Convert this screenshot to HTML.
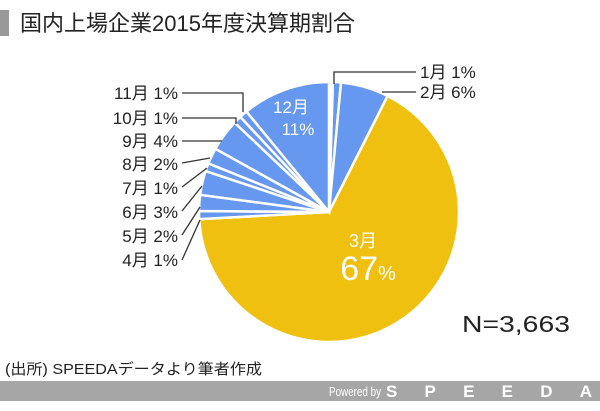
<!DOCTYPE html>
<html><head><meta charset="utf-8"><style>
body{margin:0;width:600px;height:406px;background:#fff;overflow:hidden;font-family:"Liberation Sans","Noto Sans CJK JP",sans-serif}
</style></head><body>
<svg width="600" height="406" xmlns="http://www.w3.org/2000/svg" font-family="Liberation Sans, Noto Sans CJK JP, sans-serif">
<rect x="0" y="10" width="9" height="26" fill="#999"/>
<text x="20" y="31" font-size="22" fill="#222">国内上場企業2015年度決算期割合</text>
<g id="pie" stroke="#fff" stroke-width="2.5"></g>
<g stroke="#333" stroke-width="1.3" fill="none">
<polyline points="182,93 243,93 243,112"/>
<polyline points="182,118 236,118 236,124"/>
<polyline points="182,141 222,141"/>
<polyline points="182,163 210,158"/>
<polyline points="182,187 207,168"/>
<polyline points="182,211 202,186"/>
<polyline points="182,235 200,207"/>
<polyline points="182,260 200,220"/>
<polyline points="334,84 334,72 416,72"/>
<polyline points="382,92 416,92"/>
</g>
<g font-size="17" fill="#222" text-anchor="end">
<text x="178" y="99">11月 1%</text>
<text x="178" y="124">10月 1%</text>
<text x="178" y="147">9月 4%</text>
<text x="178" y="170">8月 2%</text>
<text x="178" y="194">7月 1%</text>
<text x="178" y="218">6月 3%</text>
<text x="178" y="242">5月 2%</text>
<text x="178" y="266">4月 1%</text>
</g>
<g font-size="17" fill="#222">
<text x="420" y="78">1月 1%</text>
<text x="420" y="98">2月 6%</text>
</g>
<g fill="#fff" text-anchor="middle">
<text x="291" y="113" font-size="17">12月</text>
<text x="298" y="135" font-size="17">11%</text>
<text x="363" y="247" font-size="18">3月</text>
<text x="368" y="280" font-size="34">67<tspan font-size="20">%</tspan></text>
</g>
<text x="462" y="332" font-size="23" fill="#222" textLength="108" lengthAdjust="spacingAndGlyphs">N=3,663</text>
<text x="5" y="374" font-size="15" fill="#222" textLength="257" lengthAdjust="spacingAndGlyphs">(出所) SPEEDAデータより筆者作成</text>
<rect x="0" y="381" width="600" height="20" fill="#a6a6a6"/>
<text x="329" y="396" font-size="13" fill="#fff" textLength="52" lengthAdjust="spacingAndGlyphs">Powered by</text>
<text x="386" y="397" font-size="17" font-weight="bold" fill="#fff" textLength="206" lengthAdjust="spacing">SPEEDA</text>
</svg>
<script>
var d=[1,6,67,1,2,3,1,2,4,1,1,11],cx=329,cy=212,r=130,a=0.03,g=document.getElementById('pie'),s='';
d.forEach(function(v,i){var a2=a+v/100*(2*Math.PI-0.03);
var x1=cx+r*Math.sin(a),y1=cy-r*Math.cos(a),x2=cx+r*Math.sin(a2),y2=cy-r*Math.cos(a2);
s+='<path d="M'+cx+','+cy+'L'+x1+','+y1+'A'+r+','+r+' 0 '+(v>50?1:0)+' 1 '+x2+','+y2+'Z" fill="'+(i==2?'#f0c011':'#6798f0')+'"/>';a=a2;});
g.innerHTML=s;
</script>
</body></html>
